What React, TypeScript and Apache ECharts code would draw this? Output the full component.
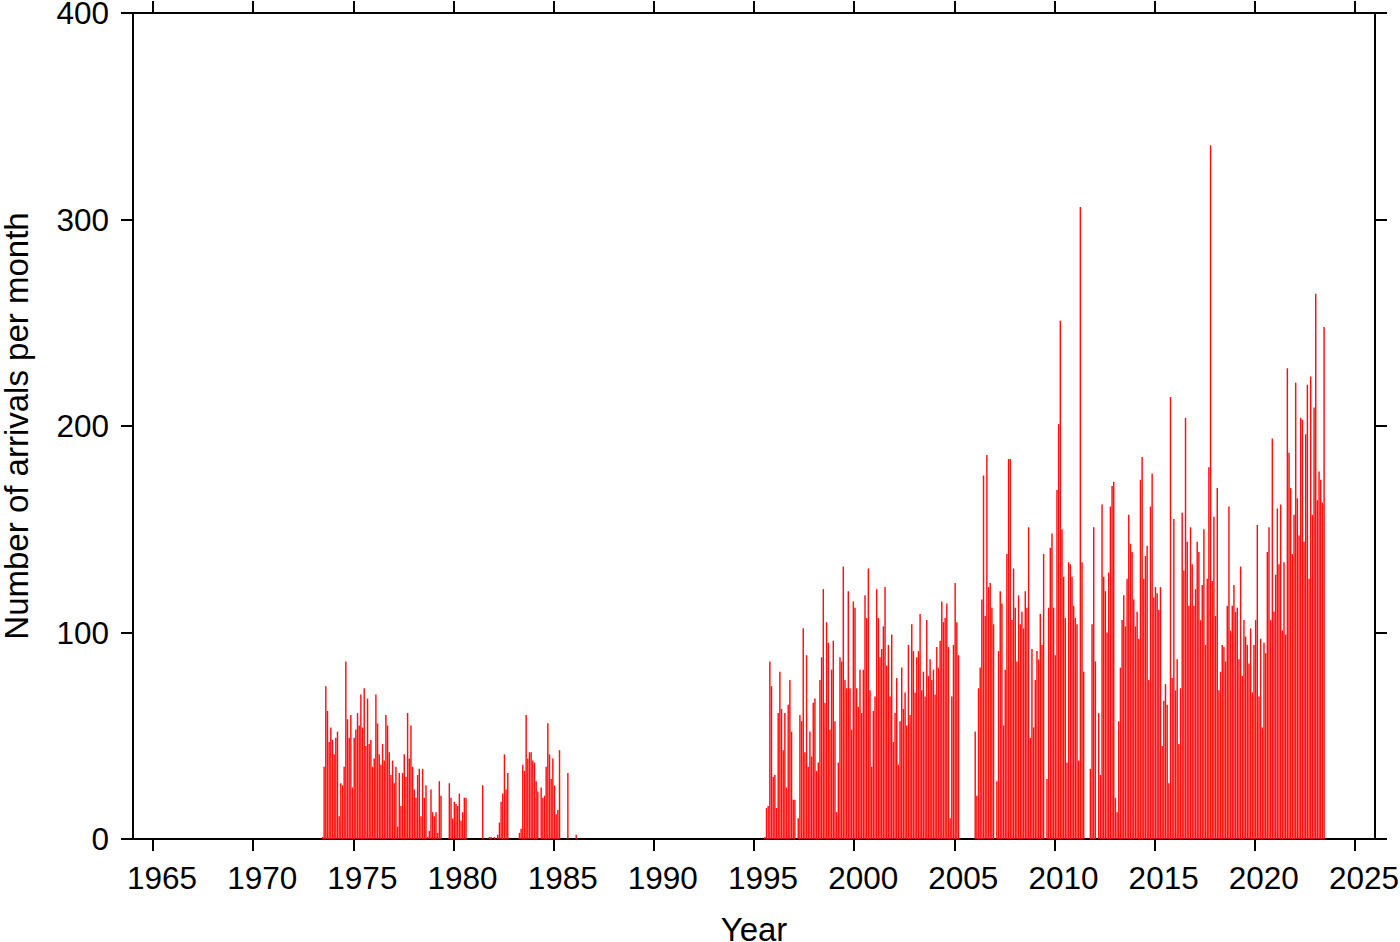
import React, { useEffect, useRef } from "react";
import * as echarts from "echarts";

// Monthly arrival counts, three observing periods (first value = first month listed)
const period1Start = { year: 1973, month: 6 }; // June 1973
const period1Counts = [
  1, 35, 74, 62, 47, 54, 48,
  41, 49, 52, 11, 27, 26, 35, 86, 58, 49, 60, 25,
  49, 53, 61, 55, 70, 54, 73, 45, 68, 46, 48, 35,
  39, 70, 56, 41, 36, 46, 38, 60, 55, 42, 31, 38,
  27, 35, 6, 32, 16, 32, 41, 30, 61, 39, 55, 35,
  24, 20, 31, 34, 11, 34, 20, 26, 1, 4, 24, 13,
  11, 13, 3, 28, 21, 0, 0, 0, 0, 27, 20, 10,
  18, 17, 16, 22, 9, 13, 20, 20, 0, 0, 0, 0,
  0, 0, 0, 0, 0, 26, 0, 0, 0, 1, 1, 0,
  1, 0, 2, 8, 18, 22, 41, 24, 32, 0, 0, 0,
  0, 0, 0, 3, 5, 36, 33, 60, 39, 42, 42, 38,
  37, 28, 23, 0, 25, 20, 21, 35, 56, 41, 29, 39,
  26, 12, 14, 43, 0, 0, 0, 0, 32, 0, 0, 0,
  0, 2,
];

const period2Start = { year: 1995, month: 7 }; // July 1995
const period2Counts = [
  1, 15, 16, 86, 74, 30,
  31, 15, 61, 81, 63, 43, 61, 25, 65, 77, 52, 19,
  19, 0, 10, 60, 57, 102, 42, 89, 35, 52, 40, 66,
  68, 33, 37, 77, 88, 121, 66, 105, 95, 53, 82, 96,
  57, 13, 37, 88, 86, 132, 77, 73, 120, 73, 53, 115,
  112, 73, 64, 82, 61, 82, 118, 107, 131, 72, 35, 62,
  69, 121, 107, 88, 92, 103, 122, 84, 94, 69, 99, 47,
  61, 78, 36, 57, 83, 63, 71, 55, 94, 60, 104, 91,
  71, 88, 91, 109, 72, 81, 69, 106, 79, 87, 77, 82,
  70, 93, 83, 96, 115, 105, 107, 114, 93, 10, 69, 94,
  124, 105, 89,
];

const period3Start = { year: 2006, month: 1 }; // January 2006
const period3Counts = [
  52, 21, 73, 83, 116, 176, 108, 186, 122, 124, 112, 104,
  0, 28, 91, 120, 114, 55, 82, 138, 184, 184, 106, 131,
  112, 86, 118, 104, 110, 102, 120, 112, 151, 49, 92, 54,
  77, 91, 87, 109, 94, 138, 0, 29, 112, 141, 148, 112,
  89, 169, 201, 251, 150, 127, 107, 37, 134, 133, 127, 113,
  107, 104, 38, 306, 134, 81, 0, 0, 0, 34, 104, 151,
  86, 0, 61, 31, 162, 127, 120, 100, 129, 161, 171, 173,
  20, 13, 57, 83, 106, 118, 103, 126, 157, 143, 139, 116,
  103, 110, 97, 174, 185, 126, 137, 142, 77, 161, 177, 117,
  122, 119, 111, 122, 45, 67, 75, 65, 27, 214, 78, 155,
  72, 87, 46, 73, 158, 130, 204, 144, 113, 151, 133, 113,
  121, 144, 139, 106, 123, 150, 94, 126, 180, 336, 125, 156,
  108, 170, 72, 81, 94, 93, 86, 113, 161, 101, 113, 123,
  110, 112, 87, 132, 79, 106, 98, 94, 85, 102, 71, 94,
  106, 152, 69, 97, 54, 95, 90, 139, 151, 106, 194, 110,
  128, 160, 133, 162, 101, 134, 99, 228, 187, 170, 138, 157,
  221, 165, 147, 204, 203, 144, 196, 220, 126, 224, 157, 209,
  264, 164, 178, 174, 163, 248,
];

const yearTicks = [1965, 1970, 1975, 1980, 1985, 1990, 1995, 2000, 2005, 2010, 2015, 2020, 2025];
const countTicks = [0, 100, 200, 300, 400];

function toPoints(start: { year: number; month: number }, counts: number[]) {
  return counts.map((c, i) => [start.year + (start.month - 1 + i + 0.5) / 12, c]);
}

const FONT = "'Liberation Sans', Arial, Helvetica, sans-serif";

export default function App() {
  const ref = useRef<HTMLDivElement>(null);
  useEffect(() => {
    if (!ref.current) return;
    const chart = echarts.init(ref.current, null, { renderer: "svg" });
    const data = [
      ...toPoints(period1Start, period1Counts),
      ...toPoints(period2Start, period2Counts),
      ...toPoints(period3Start, period3Counts),
    ];
    const lineStyle = { color: "#000", width: 2 };
    const tickLabelStyle = { color: "#000", fontSize: 31.5, fontFamily: FONT, lineHeight: 22 };
    const nameStyle = { color: "#000", fontSize: 33, fontFamily: FONT, lineHeight: 24 };
    const xBase = {
      type: "value",
      min: 1964,
      max: 2026,
      splitLine: { show: false },
      axisLine: { show: true, onZero: false, lineStyle },
      axisTick: { show: true, length: 12, customValues: yearTicks, lineStyle },
    };
    const yBase = {
      type: "value",
      min: 0,
      max: 400,
      interval: 100,
      splitLine: { show: false },
      axisLine: { show: true, onZero: false, lineStyle },
      axisTick: { show: true, length: 12, customValues: countTicks, lineStyle },
    };
    chart.setOption({
      animation: false,
      backgroundColor: "#fff",
      grid: {
        left: 133,
        top: 13,
        width: 1242,
        height: 826,
        containLabel: false,
        outerBoundsMode: "none",
      },
      xAxis: [
        {
          ...xBase,
          position: "bottom",
          name: "Year",
          nameLocation: "middle",
          nameGap: 78,
          nameTextStyle: nameStyle,
          axisLabel: {
            ...tickLabelStyle,
            margin: 28,
            padding: [0, 0, 0, 18],
            customValues: yearTicks,
            formatter: (v: number) => String(v),
          },
        },
        { ...xBase, position: "top", axisLabel: { show: false } },
      ],
      yAxis: [
        {
          ...yBase,
          position: "left",
          name: "Number of arrivals per month",
          nameLocation: "middle",
          nameGap: 105,
          nameTextStyle: nameStyle,
          axisLabel: { ...tickLabelStyle, margin: 24, formatter: (v: number) => String(v) },
        },
        { ...yBase, position: "right", axisLabel: { show: false } },
      ],
      series: [
        {
          type: "bar",
          xAxisIndex: 0,
          yAxisIndex: 0,
          data,
          barWidth: 1.45,
          silent: true,
          itemStyle: { color: "#ff1010" },
        },
      ],
    });
    return () => chart.dispose();
  }, []);
  return (
    <div
      ref={ref}
      style={{ position: "fixed", left: 0, top: 0, width: 1400, height: 942, background: "#fff" }}
    />
  );
}
